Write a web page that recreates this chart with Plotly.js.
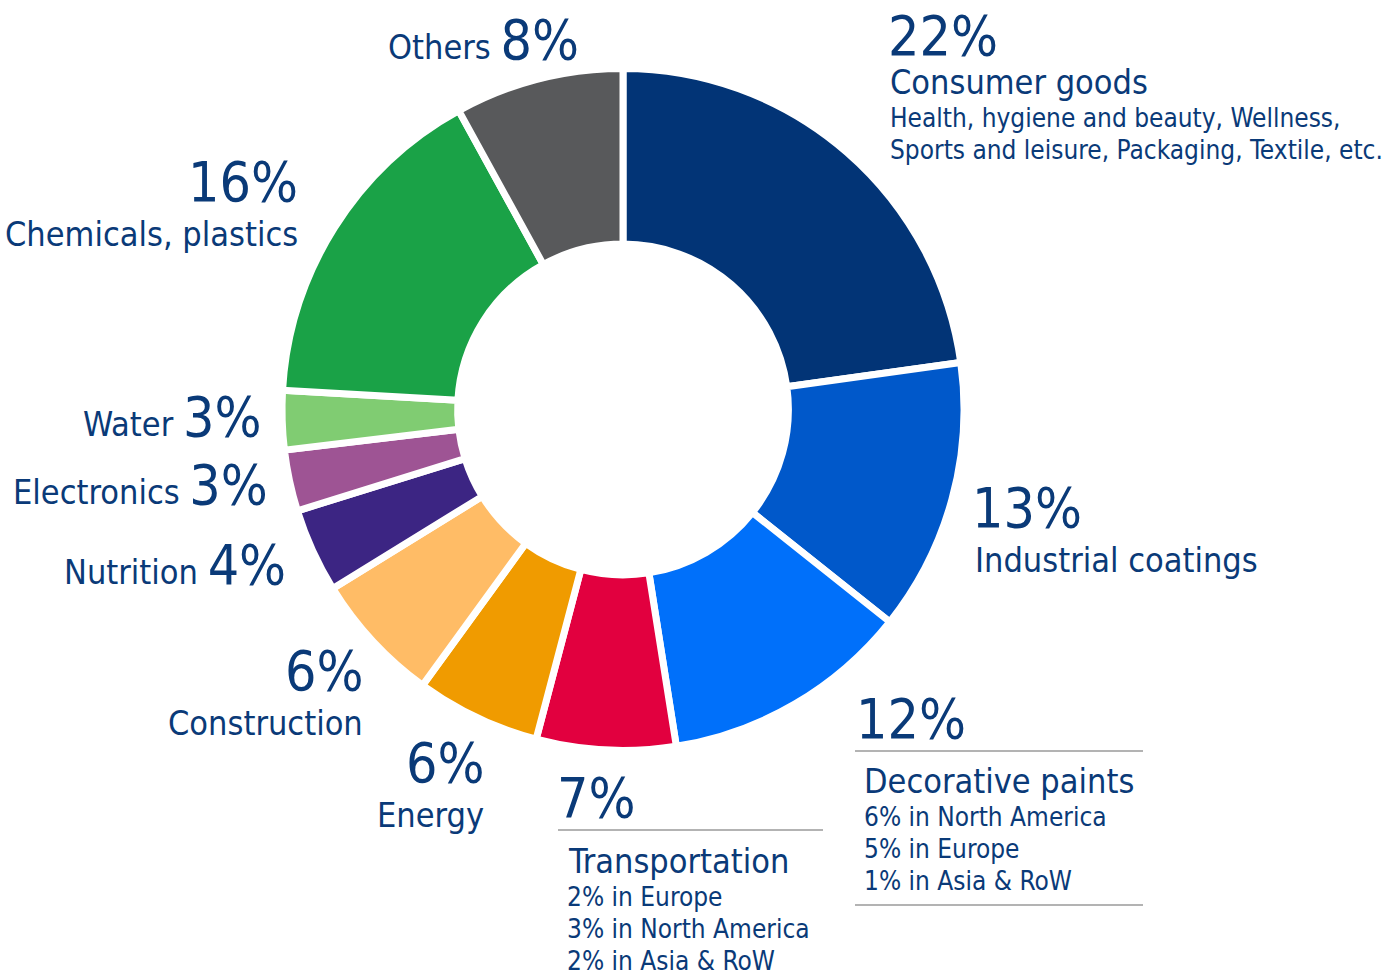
<!DOCTYPE html>
<html>
<head>
<meta charset="utf-8">
<script src="https://cdn.plot.ly/plotly-3.0.1.min.js"></script>
<style>html,body{margin:0;padding:0;background:#fff;}#chart{width:1396px;height:978px;}</style>
</head>
<body>
<div id="chart"></div>
<script>
const categories = ["Consumer goods","Industrial coatings","Decorative paints","Transportation","Energy","Construction","Nutrition","Electronics","Water","Chemicals, plastics","Others"];
// slice sizes
const shares = [22.8, 12.9, 11.8, 6.6, 5.9, 6.2, 4.0, 2.9, 2.8, 16.1, 8.0];
// percentages as printed on the chart
const percentLabels = ["22%","13%","12%","7%","6%","6%","4%","3%","3%","16%","8%"];
const sliceColors = ["#023476","#0058CA","#0070FA","#E2003F","#F09B00","#FFBC66","#3C2583","#9E5494","#80CC72","#1AA247","#58595B"];
const decorativeDetail = ["6% in North America","5% in Europe","1% in Asia & RoW"];
const transportDetail = ["2% in Europe","3% in North America","2% in Asia & RoW"];
const consumerDetail = ["Health, hygiene and beauty, Wellness,","Sports and leisure, Packaging, Textile, etc."];

const W = 1396, H = 978;
const FONT = "'DejaVu Sans Condensed', 'DejaVu Sans', sans-serif";
const TXT = "#0a3a78";
const BIG = 55, MID = 34, SMALL = 26;
const px = x => x / W;
const py = y => 1 - y / H;

const ann = [];
function add(text, x, y, size, xanchor) {
  ann.push({text: text, x: px(x), y: py(y), xref: "paper", yref: "paper",
    xanchor: xanchor || "left", yanchor: "middle", showarrow: false, align: xanchor === "right" ? "right" : "left",
    font: {family: FONT, size: size, color: TXT}});
}
function mixed(i, x, y) {
  add(categories[i] + " <span style='font-size:" + BIG + "px'>" + percentLabels[i] + "</span>", x, y, MID, "right");
}

// Consumer goods
add(percentLabels[0], 886, 36, BIG);
add(categories[0], 888, 82, MID);
add(consumerDetail[0], 888, 118, SMALL);
add(consumerDetail[1], 888, 150, SMALL);
// Industrial coatings
add(percentLabels[1], 970, 508, BIG);
add(categories[1], 973, 560, MID);
// Decorative paints
add(percentLabels[2], 854, 719, BIG);
add(categories[2], 862, 781, MID);
decorativeDetail.forEach((t, i) => add(t, 862, 817 + 32 * i, SMALL));
// Transportation
add(percentLabels[3], 555, 798, BIG);
add(categories[3], 566, 861, MID);
transportDetail.forEach((t, i) => add(t, 565, 897 + 32 * i, SMALL));
// Energy
add(percentLabels[4], 487, 763, BIG, "right");
add(categories[4], 486, 815, MID, "right");
// Construction
add(percentLabels[5], 366, 671, BIG, "right");
add(categories[5], 365, 723, MID, "right");
// Nutrition, Electronics, Water, Others
mixed(6, 288, 565);
mixed(7, 270, 485);
mixed(8, 263, 417);
mixed(10, 581, 40);
// Chemicals
add(percentLabels[9], 300, 182, BIG, "right");
add(categories[9], 300, 234, MID, "right");

const lineStyle = {color: "#9a9a9a", width: 1.5};
const shapes = [
  {type: "line", xref: "paper", yref: "paper", x0: px(855), x1: px(1143), y0: py(751), y1: py(751), line: lineStyle},
  {type: "line", xref: "paper", yref: "paper", x0: px(855), x1: px(1143), y0: py(905), y1: py(905), line: lineStyle},
  {type: "line", xref: "paper", yref: "paper", x0: px(558), x1: px(823), y0: py(830), y1: py(830), line: lineStyle}
];

const cx = 623, cy = 409.5, R = 341;
const trace = {
  type: "pie",
  labels: categories,
  values: shares,
  sort: false,
  direction: "clockwise",
  rotation: 0,
  hole: 0.485,
  textinfo: "none",
  hoverinfo: "skip",
  marker: {colors: sliceColors, line: {color: "#ffffff", width: 7}},
  domain: {x: [px(cx - R), px(cx + R)], y: [py(cy + R), py(cy - R)]}
};

Plotly.newPlot("chart", [trace], {
  width: W, height: H,
  margin: {l: 0, r: 0, t: 0, b: 0},
  paper_bgcolor: "#ffffff",
  showlegend: false,
  annotations: ann,
  shapes: shapes
}, {displayModeBar: false, staticPlot: true});
</script>
</body>
</html>
